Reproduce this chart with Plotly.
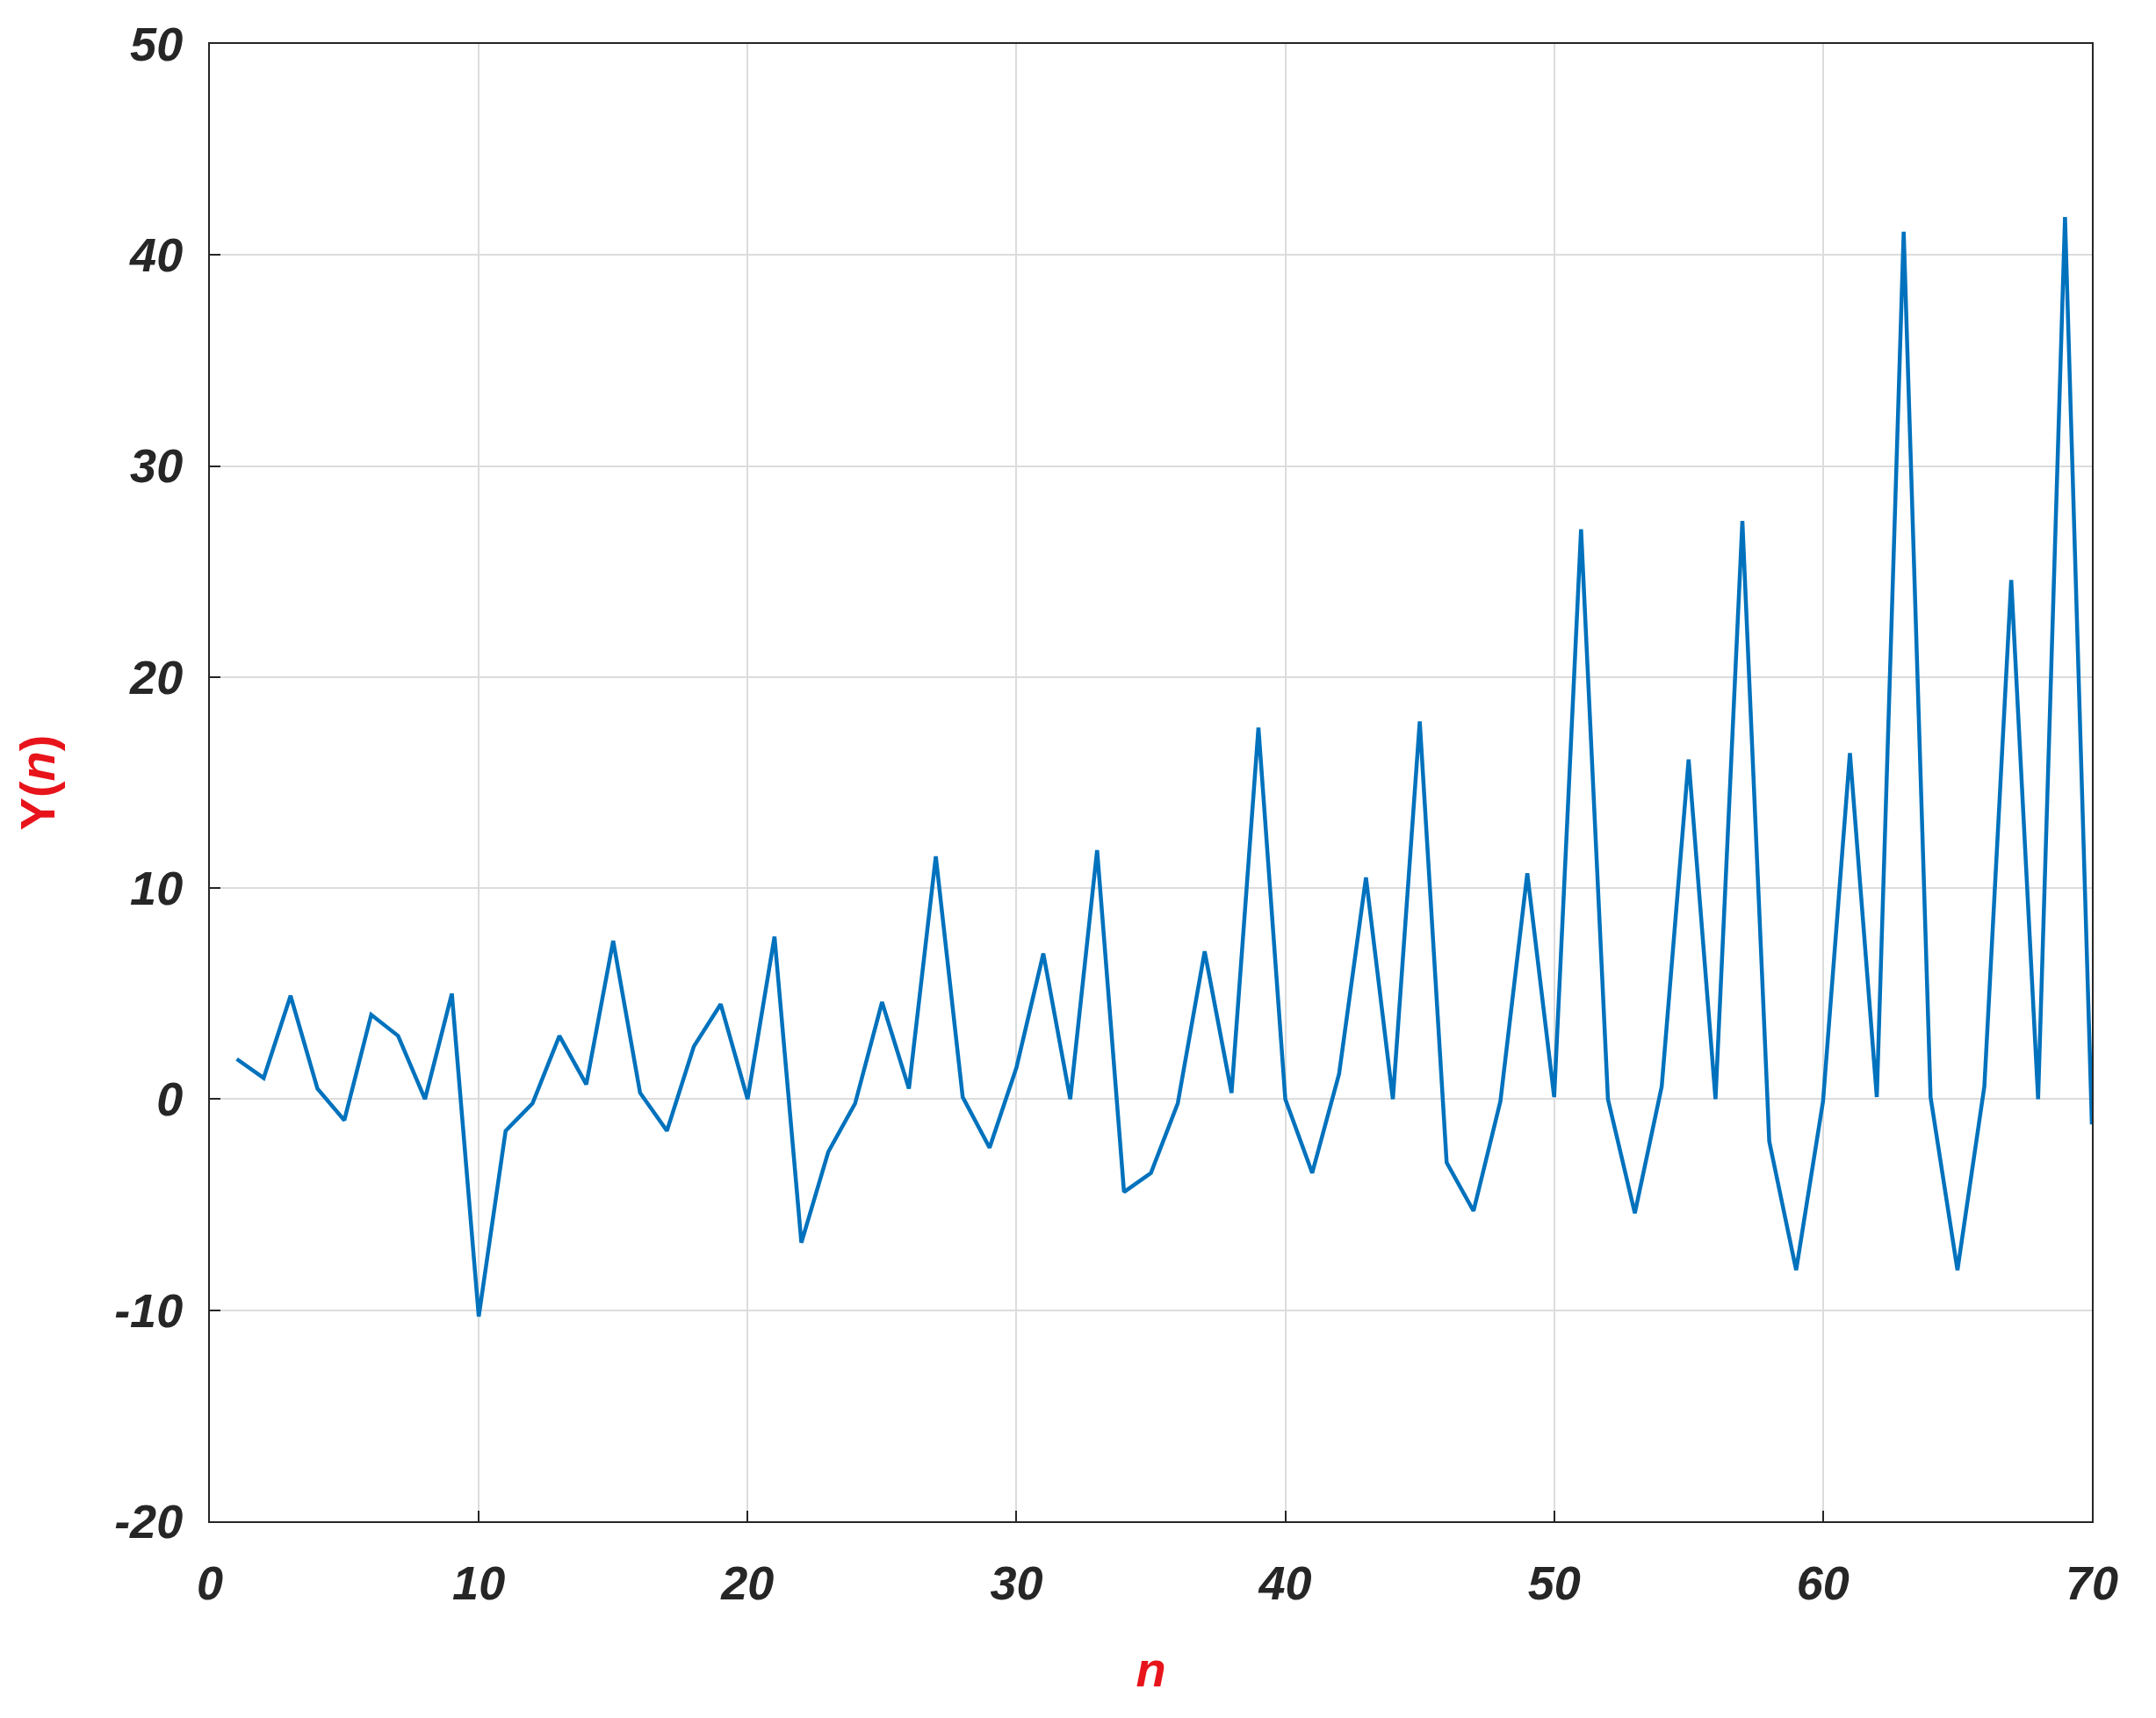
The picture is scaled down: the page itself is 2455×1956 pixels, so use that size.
import plotly.graph_objects as go

n = list(range(1, 71))
y = [1.9, 1.0, 4.9, 0.5, -1.0, 4.0, 3.0, 0.0, 5.0, -10.3,
     -1.5, -0.2, 3.0, 0.7, 7.5, 0.3, -1.5, 2.5, 4.5, 0.0,
     7.7, -6.8, -2.5, -0.2, 4.6, 0.5, 11.5, 0.1, -2.3, 1.5,
     6.9, 0.0, 11.8, -4.4, -3.5, -0.2, 7.0, 0.3, 17.6, 0.0,
     -3.5, 1.2, 10.5, 0.0, 17.9, -3.0, -5.3, -0.1, 10.7, 0.1,
     27.0, 0.0, -5.4, 0.6, 16.1, 0.0, 27.4, -2.0, -8.1, -0.1,
     16.4, 0.1, 41.1, 0.1, -8.1, 0.6, 24.6, 0.0, 41.8, -1.2]
y_ticks = [-20, -10, 0, 10, 20, 30, 40, 50]

fig = go.Figure(go.Scatter(x=n, y=y, mode="lines",
                           line=dict(color="#0072BD", width=4.5)))

axis = dict(showline=True, linecolor="#262626", linewidth=2, mirror=True,
            showgrid=True, gridcolor="#dcdcdc", gridwidth=2, zeroline=False,
            ticks="inside", ticklen=12, tickwidth=2, tickcolor="#262626",
            tickfont=dict(family="Liberation Sans", size=54, color="#262626"))

fig.update_layout(
    width=2455, height=1956, plot_bgcolor="white", paper_bgcolor="white",
    showlegend=False,
    margin=dict(l=231, r=81, t=40, b=232),
    font=dict(family="Liberation Sans"),
    xaxis=dict(axis, range=[0, 70], dtick=10, ticklabelstandoff=22,
               tickprefix="<b><i>", ticksuffix="</i></b>",
               title=dict(text="<b><i>n</i></b>", standoff=50,
                          font=dict(size=56, color="#e8141b"))),
    yaxis=dict(axis, range=[-20, 50], tickvals=y_ticks, ticklabelstandoff=18,
               ticktext=["<b><i>%d</i></b>" % v for v in y_ticks],
               title=dict(text="<b>Y(<i>n</i>)</b>", standoff=50,
                          font=dict(size=56, color="#e8141b"))),
)

fig.write_html("out.html")
